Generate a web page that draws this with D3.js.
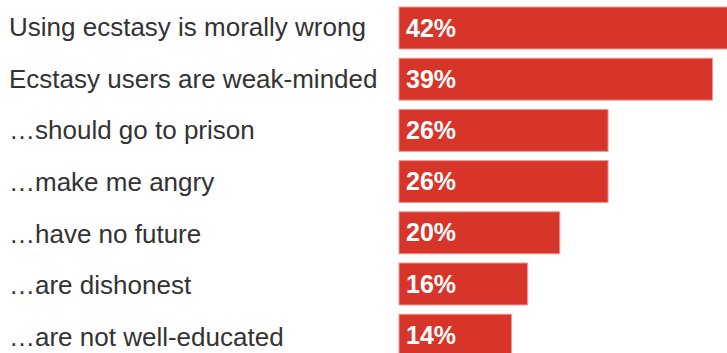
<!DOCTYPE html>
<html>
<head>
<meta charset="utf-8">
<script src="https://cdn.jsdelivr.net/npm/d3@7"></script>
<style>
  body { margin: 0; background: #fff; }
  svg { display: block; }
</style>
</head>
<body>
<div id="chart"></div>
<script>
var labels = [
    "Using ecstasy is morally wrong",
    "Ecstasy users are weak-minded",
    "\u2026should go to prison",
    "\u2026make me angry",
    "\u2026have no future",
    "\u2026are dishonest",
    "\u2026are not well-educated"
];
var values = [42, 39, 26, 26, 20, 16, 14];

function drawChart() {
    var width = 727;
    var height = 353;
    var barLeft = 399;

    var svg = d3.select('#chart')
      .append('svg')
        .attr('width', width)
        .attr('height', height);

    var data = labels.map((d, i) => ({label: d, value: values[i]}));

    var x = d3.scaleLinear()
        .domain([0, 10])
        .range([barLeft, barLeft + 80.4]);

    var y = d3.scaleBand()
        .domain(labels)
        .range([7, 7 + 51.2 * 6.82])
        .paddingInner(0.18)
        .paddingOuter(0);

    // left labels sit on a slightly wider pitch than the bars
    var yLabel = d3.scalePoint()
        .domain(labels)
        .range([36, 346]);

    svg.append('g')
      .selectAll('rect')
      .data(data)
      .enter()
      .append('rect')
        .attr('x', x(0))
        .attr('y', d => y(d.label))
        .attr('width', d => x(d.value) - x(0))
        .attr('height', y.bandwidth())
        .attr('fill', '#d8352a')
        .attr('stroke', '#ef9a94')
        .attr('stroke-width', 1);

    svg.append('g')
      .selectAll('text')
      .data(data)
      .enter()
      .append('text')
        .attr('x', 9)
        .attr('y', d => yLabel(d.label))
        .attr('fill', '#333')
        .attr('font-family', 'Liberation Sans, Arial, sans-serif')
        .attr('font-size', '26px')
        .text(d => d.label);

    svg.append('g')
      .selectAll('text')
      .data(data)
      .enter()
      .append('text')
        .attr('x', x(0) + 7)
        .attr('y', d => y(d.label) + 29.5)
        .attr('fill', '#fff')
        .attr('font-family', 'Liberation Sans, Arial, sans-serif')
        .attr('font-weight', 'bold')
        .attr('font-size', '25px')
        .text(d => d.value + '%');
}

drawChart();
</script>
</body>
</html>
